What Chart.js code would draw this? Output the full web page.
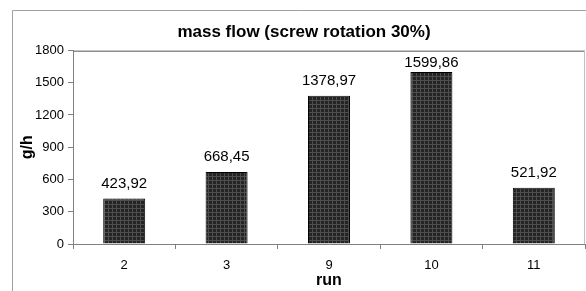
<!DOCTYPE html>
<html>
<head>
<meta charset="utf-8">
<script src="https://cdn.jsdelivr.net/npm/chart.js@4.4.1/dist/chart.umd.min.js"></script>
<style>
	html, body { margin: 0; padding: 0; background: #fff; overflow: hidden; }
	#wrap { position: relative; width: 586px; height: 291px; }
</style>
</head>
<body>
<div id="wrap"><canvas id="chart" width="586" height="291"></canvas></div>
<script>
const runs = ['2', '3', '9', '10', '11'];
const massFlow = [423.92, 668.45, 1378.97, 1599.86, 521.92];
const yTicks = [0, 300, 600, 900, 1200, 1500, 1800];

const FONT = 'Arial, "Liberation Sans", sans-serif';

// dark crosshatch fill, like the old spreadsheet bars
function makePattern() {
	const c = document.createElement('canvas');
	c.width = 4;
	c.height = 4;
	const g = c.getContext('2d');
	g.fillStyle = '#242424';
	g.fillRect(0, 0, 4, 4);
	g.fillStyle = '#4e4e4e';
	g.fillRect(0, 0, 4, 1);
	g.fillRect(0, 0, 1, 4);
	return g.createPattern(c, 'repeat');
}

const frame = {
	id: 'frame',
	beforeDraw(chart) {
		const { ctx, chartArea: a } = chart;
		ctx.save();
		ctx.strokeStyle = '#a0a0a0';
		ctx.lineWidth = 1;
		ctx.beginPath();
		ctx.moveTo(12.5, 291);
		ctx.lineTo(12.5, 10.5);
		ctx.lineTo(586, 10.5);
		ctx.stroke();
		ctx.strokeStyle = '#8c8c8c';
		ctx.lineWidth = 1.5;
		ctx.beginPath();
		ctx.moveTo(a.left, a.top + 0.75);
		ctx.lineTo(a.right, a.top + 0.75);
		ctx.stroke();
		ctx.strokeStyle = '#c0c0c0';
		ctx.lineWidth = 1;
		ctx.beginPath();
		ctx.moveTo(a.right - 0.5, a.top);
		ctx.lineTo(a.right - 0.5, a.bottom);
		ctx.stroke();
		ctx.restore();
	},
	afterDatasetsDraw(chart) {
		const { ctx, chartArea: a } = chart;
		const meta = chart.getDatasetMeta(0);
		ctx.save();
		ctx.font = '15px ' + FONT;
		ctx.fillStyle = '#000';
		ctx.textAlign = 'center';
		ctx.textBaseline = 'middle';
		meta.data.forEach((bar, i) => {
			const txt = massFlow[i].toFixed(2).replace('.', ',');
			// labels stay inside the plot area, as in the original
			ctx.fillText(txt, bar.x, Math.max(bar.y - 15, a.top + 12));
		});
		ctx.restore();
	},
};

new Chart(document.getElementById('chart'), {
	type: 'bar',
	data: {
		labels: runs,
		datasets: [{
			data: massFlow,
			backgroundColor: makePattern(),
			borderColor: '#000',
			borderWidth: 1,
			borderSkipped: 'bottom',
			categoryPercentage: 1,
			barPercentage: 0.41,
		}],
	},
	options: {
		responsive: false,
		animation: false,
		events: [],
		layout: { padding: { left: 23, right: 1, top: 0, bottom: 0 } },
		plugins: {
			legend: { display: false },
			tooltip: { enabled: false },
			title: {
				display: true,
				text: 'mass flow (screw rotation 30%)',
				color: '#000',
				font: { family: FONT, size: 17, weight: 'bold', lineHeight: 1.2 },
				padding: { top: 22, bottom: 8 },
			},
		},
		scales: {
			x: {
				afterFit: (s) => { s.height = 47; },
				grid: { drawOnChartArea: false, tickLength: 5, color: '#808080', offset: true },
				border: { color: '#808080' },
				ticks: { color: '#000', font: { family: FONT, size: 13 }, padding: 9 },
				title: {
					display: true,
					text: 'run',
					color: '#000',
					font: { family: FONT, size: 16, weight: 'bold', lineHeight: 1.2 },
					padding: { top: 0, bottom: 1 },
				},
			},
			y: {
				min: 0,
				max: 1800,
				afterFit: (s) => { s.width = 50; },
				afterBuildTicks: (s) => { s.ticks = yTicks.map((v) => ({ value: v })); },
				grid: { drawOnChartArea: false, tickLength: 5, color: '#808080' },
				border: { color: '#808080' },
				ticks: {
					color: '#000',
					font: { family: FONT, size: 13 },
					padding: 4,
					callback: (v) => String(v),
				},
				title: {
					display: true,
					text: 'g/h',
					color: '#000',
					font: { family: FONT, size: 16, weight: 'bold', lineHeight: 0.6 },
					padding: { top: 0, bottom: 0 },
				},
			},
		},
	},
	plugins: [frame],
});
</script>
</body>
</html>
